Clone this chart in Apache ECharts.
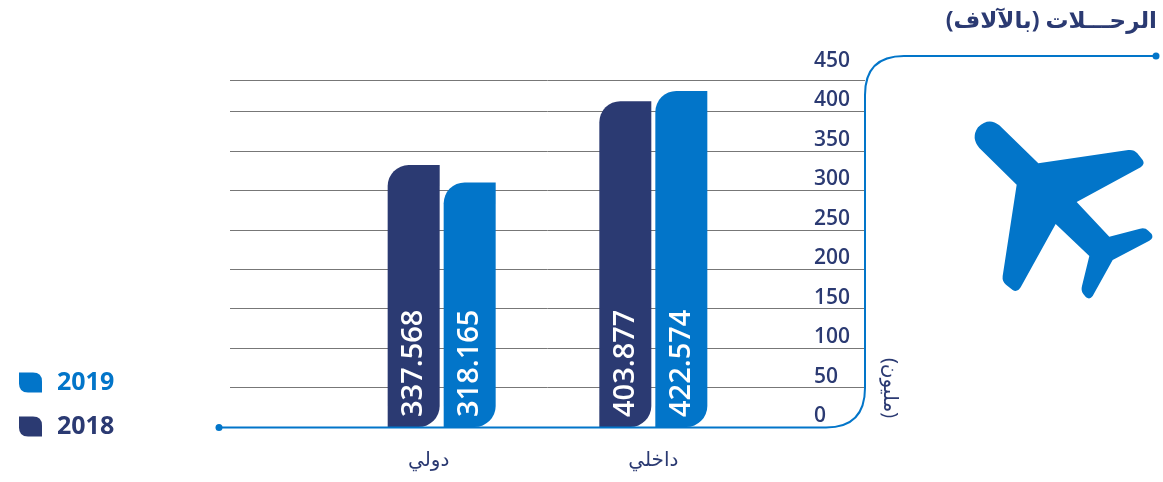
<!DOCTYPE html>
<html>
<head>
<meta charset="utf-8">
<script src="https://cdn.jsdelivr.net/npm/echarts@6/dist/echarts.min.js"></script>
<style>
html, body { margin: 0; padding: 0; background: #fff; }
#chart { width: 1163px; height: 482px; }
</style>
</head>
<body>
<div id="chart"></div>
<script>
// categories have blank ends so the two groups sit where the reference puts them
var categories = ["", "دولي", "داخلي", ""];
var years = ["2018", "2019"];
// bar heights as read against the axis (the printed numbers do not quite match the axis)
var heights2018 = [null, 332, 413, null];
var heights2019 = [null, 310, 426, null];
// numbers printed inside the bars
var labels2018 = ["", "337.568", "403.877", ""];
var labels2019 = ["", "318.165", "422.574", ""];
var topLine = [439];

var NAVY = "#2b3a72";
var BLUE = "#0275c9";
var FONT = "'Open Sans', 'Noto Sans', sans-serif";
var AR_FONT = "'Open Sans', 'Noto Sans', 'DejaVu Sans', sans-serif";

var leaf = "path://M0,0 L14,0 Q23,0 23,9 L23,20 L9,20 Q0,20 0,11 Z";
var plane = "M118 46 L235 160 L505 120 Q522 118 532 130 L548 150 Q556 162 542 172 L350 276 L448 380 L540 356 Q555 352 565 362 L575 372 Q582 384 568 392 L458 450 L398 558 Q390 570 378 562 L370 552 Q362 542 366 528 L388 438 L287 342 L182 532 Q172 548 158 540 L138 524 Q126 514 128 498 L170 224 L58 114 Q32 84 54 52 Q86 20 118 46 Z";
var frame = "M219 427.5 L826 427.5 Q865 427.5 865 388 L865 95 Q865 56 904 56 L1156 56";

// graphic component has no plain path type, so register these two
echarts.graphic.registerShape("planeIcon", echarts.graphic.extendPath(plane, {}));
echarts.graphic.registerShape("frameLine", echarts.graphic.extendPath(frame, {}));

function barSeries(name, color, heights, labels) {
  return {
    name: name,
    type: "bar",
    barWidth: 52,
    barGap: "7.7%",
    z: 3,
    itemStyle: { color: color, borderRadius: [21, 0, 21, 0] },
    label: {
      show: true,
      position: "insideBottom",
      distance: 10,
      rotate: 90,
      align: "left",
      verticalAlign: "middle",
      color: "#fff",
      fontFamily: FONT,
      fontSize: 29,
      fontWeight: 600,
      formatter: function (p) { return labels[p.dataIndex]; }
    },
    data: heights
  };
}

var series = [
  barSeries(years[0], NAVY, heights2018, labels2018),
  barSeries(years[1], BLUE, heights2019, labels2019)
];
// the top rule in the reference sits below the 450 tick
series[0].markLine = {
  silent: true,
  symbol: "none",
  label: { show: false },
  lineStyle: { color: "#777", width: 1, type: "solid" },
  data: [{ yAxis: topLine[0] }]
};

var myChart = echarts.init(document.getElementById("chart"));
myChart.setOption({
  animation: false,
  backgroundColor: "#fff",
  grid: { left: 230, right: 298, top: 72, bottom: 55 },
  legend: {
    left: 14,
    top: 365,
    orient: "vertical",
    itemWidth: 23,
    itemHeight: 20,
    itemGap: 19,
    icon: leaf,
    selectedMode: false,
    textStyle: { fontFamily: FONT, fontSize: 25, fontWeight: 700, padding: [0, 0, 0, 10] },
    data: [
      { name: years[1], textStyle: { color: BLUE } },
      { name: years[0], textStyle: { color: NAVY } }
    ]
  },
  xAxis: {
    type: "category",
    boundaryGap: false,
    data: categories,
    axisLine: { show: false },
    axisTick: { show: false },
    axisLabel: {
      interval: 0,
      margin: 23,
      color: NAVY,
      fontFamily: AR_FONT,
      fontSize: 20,
      formatter: function (v) { return v === categories[1] ? "{left|" + v + "}" : v; },
      rich: {
        left: {
          padding: [0, 26, 0, 0],
          color: NAVY,
          fontFamily: AR_FONT,
          fontSize: 20
        }
      }
    }
  },
  yAxis: {
    type: "value",
    position: "right",
    min: 0,
    max: 450,
    interval: 50,
    axisLine: { show: false },
    axisTick: { show: false },
    axisLabel: {
      inside: true,
      margin: 51,
      align: "left",
      verticalAlign: "bottom",
      lineHeight: 22,
      color: NAVY,
      fontFamily: FONT,
      fontSize: 21,
      fontWeight: 600
    },
    splitLine: {
      show: true,
      showMinLine: false,
      showMaxLine: false,
      lineStyle: { color: "#777", width: 1 }
    }
  },
  graphic: [
    {
      type: "frameLine",
      z: 10,
      style: { fill: "none", stroke: BLUE, lineWidth: 2 }
    },
    { type: "circle", z: 10, shape: { cx: 219, cy: 427.5, r: 3.5 }, style: { fill: BLUE } },
    { type: "circle", z: 10, shape: { cx: 1156, cy: 56, r: 3.5 }, style: { fill: BLUE } },
    {
      type: "planeIcon",
      z: 10,
      x: 960,
      y: 110,
      scaleX: 1 / 3,
      scaleY: 1 / 3,
      style: { fill: BLUE }
    },
    {
      type: "text",
      z: 10,
      x: 1157,
      y: 21,
      style: {
        text: "الرحـــلات (بالآلاف)",
        align: "right",
        verticalAlign: "middle",
        fill: NAVY,
        font: "700 23px " + AR_FONT
      }
    },
    {
      type: "text",
      z: 10,
      x: 890,
      y: 388,
      rotation: -Math.PI / 2,
      style: {
        text: "(مليون)",
        align: "center",
        verticalAlign: "middle",
        fill: NAVY,
        font: "20px " + AR_FONT
      }
    }
  ],
  series: series
});
window.onresize = myChart.resize;
</script>
</body>
</html>
